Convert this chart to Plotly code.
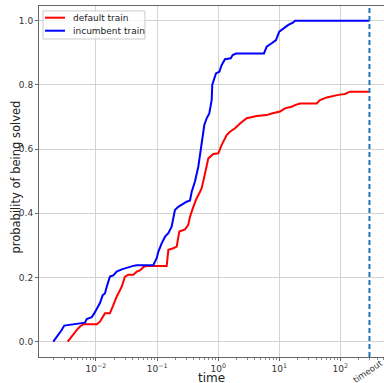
import math
import plotly.graph_objects as go

# Incumbent train (blue) ECDF
inc_time = [0.0020, 0.00232, 0.00257, 0.00274, 0.00303, 0.00483, 0.0066, 0.00705, 0.0085,
            0.00937, 0.0103, 0.0116, 0.0129, 0.0140, 0.0150, 0.0169, 0.0192, 0.0218, 0.0264,
            0.0338, 0.0408, 0.0464, 0.0866, 0.0986, 0.1047, 0.119, 0.135, 0.153, 0.173,
            0.196, 0.222, 0.305, 0.346, 0.369, 0.418, 0.473, 0.518, 0.558, 0.593, 0.649,
            0.716, 0.784, 0.80, 0.865, 0.922, 1.045, 1.143, 1.294, 1.604, 1.73, 1.96, 5.62,
            6.23, 7.52, 8.85, 10.0, 11.7, 14.1, 17.0, 18.1, 300]
inc_prob = [0.0, 0.016, 0.026, 0.036, 0.05, 0.055, 0.059, 0.07, 0.076,
            0.088, 0.104, 0.12, 0.145, 0.15, 0.171, 0.2025, 0.206, 0.218, 0.225,
            0.232, 0.236, 0.238, 0.238, 0.26, 0.28, 0.306, 0.327, 0.338, 0.358,
            0.41, 0.42, 0.436, 0.44, 0.467, 0.50, 0.545, 0.597, 0.649, 0.675, 0.696,
            0.711, 0.753, 0.80, 0.82, 0.836, 0.841, 0.862, 0.88, 0.883, 0.893, 0.898, 0.898,
            0.919, 0.93, 0.94, 0.966, 0.976, 0.987, 0.995, 1.0, 1.0]

# Default train (red) ECDF
def_time = [0.00344, 0.00375, 0.00425, 0.00483, 0.00547, 0.0062, 0.0103, 0.0116, 0.0140,
            0.0169, 0.0192, 0.0218, 0.0264, 0.0298, 0.0338, 0.0408, 0.0464, 0.0525, 0.0595,
            0.0676, 0.1437, 0.153, 0.1843, 0.2096, 0.231, 0.287, 0.324, 0.346, 0.392, 0.445,
            0.505, 0.537, 0.593, 0.649, 0.690, 0.832, 1.005, 1.143, 1.38, 1.56, 1.89, 2.28,
            2.93, 4.27, 6.23, 7.52, 10.3, 12.4, 16.0, 18.1, 21.9, 41.0, 46.5, 59.8, 72.2,
            92.7, 119, 144, 300]
def_prob = [0.0, 0.01, 0.021, 0.036, 0.047, 0.054, 0.054, 0.062, 0.088,
            0.088, 0.114, 0.14, 0.171, 0.2025, 0.208, 0.208, 0.218, 0.222, 0.232,
            0.236, 0.236, 0.286, 0.291, 0.296, 0.343, 0.35, 0.364, 0.389, 0.42, 0.447,
            0.467, 0.478, 0.514, 0.545, 0.571, 0.585, 0.587, 0.613, 0.644, 0.654, 0.665, 0.68,
            0.696, 0.703, 0.706, 0.711, 0.717, 0.727, 0.732, 0.737, 0.742, 0.742, 0.753, 0.761, 0.765,
            0.769, 0.772, 0.779, 0.779]

series_names = ["default train", "incumbent train"]
series_colors = ["#ff0000", "#0000ff"]

timeout = 300
x_tickvals = [0.01, 0.1, 1, 10, 100]
x_ticktext = ["10<sup>−2</sup>", "10<sup>−1</sup>", "10<sup>0</sup>", "10<sup>1</sup>", "10<sup>2</sup>"]
y_tickvals = [0.0, 0.2, 0.4, 0.6, 0.8, 1.0]
y_ticktext = ["0.0", "0.2", "0.4", "0.6", "0.8", "1.0"]

FONT = "DejaVu Sans"

fig = go.Figure()
for xs, ys, name, col in [(def_time, def_prob, series_names[0], series_colors[0]),
                          (inc_time, inc_prob, series_names[1], series_colors[1])]:
    fig.add_trace(go.Scatter(x=xs, y=ys, mode="lines", name=name,
                             line=dict(color=col, width=2), showlegend=False))

# timeout marker
fig.add_shape(type="line", x0=timeout, x1=timeout, y0=0, y1=1,
              xref="x", yref="paper",
              line=dict(color="#1f77b4", width=2, dash="5px,3px"))

fig.add_annotation(x=math.log10(timeout), y=-0.040, xref="x", yref="paper",
                   text="timeout", showarrow=False, textangle=-34,
                   xanchor="center", yanchor="middle", xshift=-1,
                   font=dict(family=FONT, size=8.5, color="#333"))

# axis titles
fig.add_annotation(x=0.5, y=-0.060, xref="paper", yref="paper", text="time",
                   showarrow=False, xanchor="center", yanchor="middle",
                   font=dict(family=FONT, size=12, color="#222"))
fig.add_annotation(x=-0.0667, y=0.514, xref="paper", yref="paper",
                   text="probability of being solved", textangle=-90,
                   showarrow=False, xanchor="center", yanchor="middle",
                   font=dict(family=FONT, size=11.5, color="#222"))

# legend (matplotlib-like compact box)
fig.add_shape(type="rect", xref="paper", yref="paper", x0=0.0116, x1=0.307, y0=0.906, y1=0.986,
              fillcolor="rgba(255,255,255,0.8)", line=dict(color="#cccccc", width=1), layer="above")
for i, (name, col) in enumerate(zip(series_names, series_colors)):
    ly = 0.9667 - i * 0.0371
    fig.add_shape(type="line", xref="paper", yref="paper", x0=0.0174, x1=0.0754, y0=ly, y1=ly,
                  line=dict(color=col, width=2), layer="above")
    fig.add_annotation(x=0.0928, y=ly, xref="paper", yref="paper", text=name,
                       showarrow=False, xanchor="left", yanchor="middle",
                       font=dict(family=FONT, size=9, color="#222"))

fig.update_layout(
    width=384, height=383,
    margin=dict(l=39, r=0, t=6, b=26, autoexpand=False),
    paper_bgcolor="white", plot_bgcolor="white",
    font=dict(family=FONT, size=9, color="#333"),
    showlegend=False,
)
fig.update_xaxes(type="log", range=[-2.933, 2.715], automargin=False,
                 tickvals=x_tickvals, ticktext=x_ticktext,
                 showgrid=True, gridcolor="#d3d3d3", gridwidth=1,
                 showline=True, linecolor="#666", linewidth=1, mirror=True,
                 ticks="outside", ticklen=3, tickcolor="#666",
                 minor=dict(ticks="outside", ticklen=2, tickcolor="#888", dtick="D1", showgrid=False),
                 tickfont=dict(family=FONT, size=9, color="#333"),
                 zeroline=False)
fig.update_yaxes(range=[-0.048, 1.046], automargin=False,
                 tickvals=y_tickvals, ticktext=y_ticktext,
                 showgrid=True, gridcolor="#d3d3d3", gridwidth=1,
                 showline=True, linecolor="#666", linewidth=1,
                 ticks="outside", ticklen=3, tickcolor="#666",
                 tickfont=dict(family=FONT, size=9, color="#333"),
                 zeroline=False)

fig.write_html("out.html", config={"displayModeBar": False},
               post_script="document.body.style.margin='0';document.body.style.overflow='hidden';")
